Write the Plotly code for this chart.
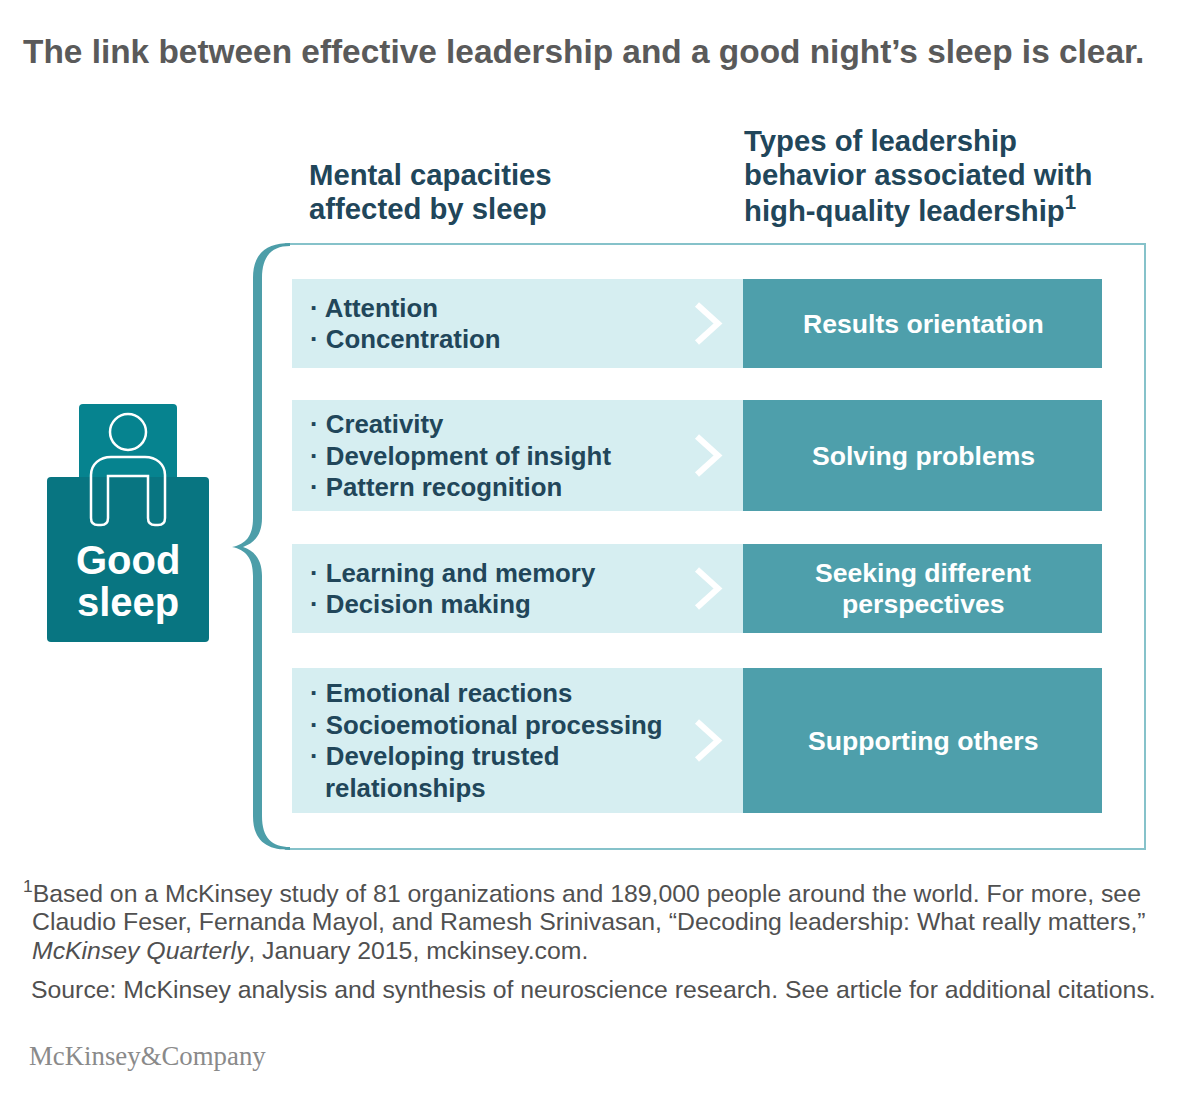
import plotly.graph_objects as go

# ---------------- data ----------------
title_text = "The link between effective leadership and a good night\u2019s sleep is clear."
header_left = ["Mental capacities", "affected by sleep"]
header_right = ["Types of leadership", "behavior associated with", "high-quality leadership<sup>1</sup>"]

capacities = [
    ["Attention", "Concentration"],
    ["Creativity", "Development of insight", "Pattern recognition"],
    ["Learning and memory", "Decision making"],
    ["Emotional reactions", "Socioemotional processing", "Developing trusted\nrelationships"],
]
behaviors = [
    ["Results orientation"],
    ["Solving problems"],
    ["Seeking different", "perspectives"],
    ["Supporting others"],
]
icon_label = ["Good", "sleep"]

footnote_lines = [
    "<sup>1</sup>Based on a McKinsey study of 81 organizations and 189,000 people around the world. For more, see",
    "Claudio Feser, Fernanda Mayol, and Ramesh Srinivasan, \u201cDecoding leadership: What really matters,\u201d",
    "<i>McKinsey Quarterly</i>, January 2015, mckinsey.com.",
]
source_text = "Source: McKinsey analysis and synthesis of neuroscience research. See article for additional citations."
logo_text = "McKinsey&Company"

# ---------------- styling / layout ----------------
W, H = 1199, 1102
FONT = "Liberation Sans"
C_TEXT = "#21465a"
C_LIGHT = "#d6eef1"
C_DARK = "#4e9fab"
C_BRACE = "#4d9ea9"
C_FRAME = "#86c2ca"
C_ICON_TOP = "#06838f"
C_ICON_BOT = "#087581"
C_NOTE = "#505050"

row_tops = [279, 400, 544, 668]
row_bots = [368, 511, 633, 813]
LX0, LX1, DX1 = 292, 743, 1102
LINE_H = 31.5

fig = go.Figure()
shapes = []
ann = []


def text(x, y, s, size, color=C_TEXT, weight="normal", xanchor="left", family=FONT, yanchor="middle"):
    ann.append(dict(x=x, y=y, xref="x", yref="y", text=s, showarrow=False,
                    xanchor=xanchor, yanchor=yanchor,
                    font=dict(family=family, size=size, color=color, weight=weight)))


# title
text(21, 51, title_text, 33.4, color="#5a5a5a", weight="bold")

# headers
for i, s in enumerate(header_left):
    text(307, 174 + i * 34, s, 29.3, weight="bold")
for i, s in enumerate(header_right):
    text(742, 140 + i * 34, s, 29.3, weight="bold")

# frame lines (top, right, bottom)
shapes.append(dict(type="path", xref="x", yref="y",
                   path="M 285,244 L 1145,244 L 1145,849 L 285,849",
                   line=dict(color=C_FRAME, width=2)))
# curly brace on the left
brace = ("M 290,243 C 268,243 253,252 253,278 L 253,518 C 253,536 246,544 232,547 "
         "C 246,550 253,558 253,576 L 253,816 C 253,842 268,850 290,850 "
         "L 290,847 C 272,847 262,838 262,816 L 262,576 C 262,560 255,551 243,547 "
         "C 255,543 262,534 262,518 L 262,278 C 262,256 272,246 290,246 Z")
shapes.append(dict(type="path", xref="x", yref="y", path=brace,
                   fillcolor=C_BRACE, line=dict(width=0)))

# rows
for r, (items, beh) in enumerate(zip(capacities, behaviors)):
    y0, y1 = row_tops[r], row_bots[r]
    yc = (y0 + y1) / 2
    shapes.append(dict(type="rect", xref="x", yref="y", x0=LX0, x1=LX1, y0=y0, y1=y1,
                       fillcolor=C_LIGHT, line=dict(width=0), layer="below"))
    shapes.append(dict(type="rect", xref="x", yref="y", x0=LX1, x1=DX1, y0=y0, y1=y1,
                       fillcolor=C_DARK, line=dict(width=0), layer="below"))
    # chevron
    shapes.append(dict(type="path", xref="x", yref="y",
                       path=f"M 697,{yc-19} L 718,{yc} L 697,{yc+19}",
                       line=dict(color="white", width=6)))
    # capacity lines
    lines = []
    for it in items:
        parts = it.split("\n")
        for k, p in enumerate(parts):
            lines.append((k == 0, p))
    n = len(lines)
    for i, (bullet, s) in enumerate(lines):
        y = yc + (i - (n - 1) / 2) * LINE_H
        if bullet:
            text(308, y, "\u00b7 " + s, 25.8, weight="bold")
        else:
            text(323, y, s, 25.8, weight="bold")
    # behavior lines
    m = len(beh)
    for i, s in enumerate(beh):
        y = yc + (i - (m - 1) / 2) * LINE_H
        text(923, y, s, 26.6, color="white", weight="bold", xanchor="center")

# Good sleep icon
shapes.append(dict(type="path", xref="x", yref="y",
                   path="M 83,404 L 173,404 Q 177,404 177,408 L 177,478 L 79,478 L 79,408 Q 79,404 83,404 Z",
                   fillcolor=C_ICON_TOP, line=dict(width=0)))
shapes.append(dict(type="path", xref="x", yref="y",
                   path="M 51,477 L 205,477 Q 209,477 209,481 L 209,638 Q 209,642 205,642 L 51,642 Q 47,642 47,638 L 47,481 Q 47,477 51,477 Z",
                   fillcolor=C_ICON_BOT, line=dict(width=0)))
# head
shapes.append(dict(type="circle", xref="x", yref="y", x0=110, x1=146, y0=414, y1=450,
                   line=dict(color="white", width=2.5)))
# body outline
body = ("M 91,518 L 91,475 C 91,464 100,457 111,457 L 145,457 C 156,457 165,464 165,475 "
        "L 165,518 C 165,523 162,525 158,525 L 155,525 C 151,525 148,523 148,518 "
        "L 148,476 L 108,476 L 108,518 C 108,523 105,525 101,525 L 98,525 C 94,525 91,523 91,518 Z")
shapes.append(dict(type="path", xref="x", yref="y", path=body,
                   line=dict(color="white", width=2.5)))
for i, s in enumerate(icon_label):
    text(128, 560 + i * 42, s, 40, color="white", weight="bold", xanchor="center")

# footnotes
text(21, 891, footnote_lines[0], 24.8, color=C_NOTE)
text(30, 921, footnote_lines[1], 24.8, color=C_NOTE)
text(30, 950, footnote_lines[2], 24.8, color=C_NOTE)
text(29, 989, source_text, 24.8, color=C_NOTE)
text(27, 1056, logo_text, 26.8, color="#8a8a8a", family="Liberation Serif")

fig.update_layout(
    width=W, height=H,
    margin=dict(l=0, r=0, t=0, b=0),
    paper_bgcolor="white", plot_bgcolor="white",
    xaxis=dict(range=[0, W], visible=False, fixedrange=True),
    yaxis=dict(range=[H, 0], visible=False, fixedrange=True),
    shapes=shapes, annotations=ann, showlegend=False,
)

fig.write_html("out.html", config={"displayModeBar": False},
               post_script="document.body.style.margin='0';document.body.style.overflow='hidden';")
